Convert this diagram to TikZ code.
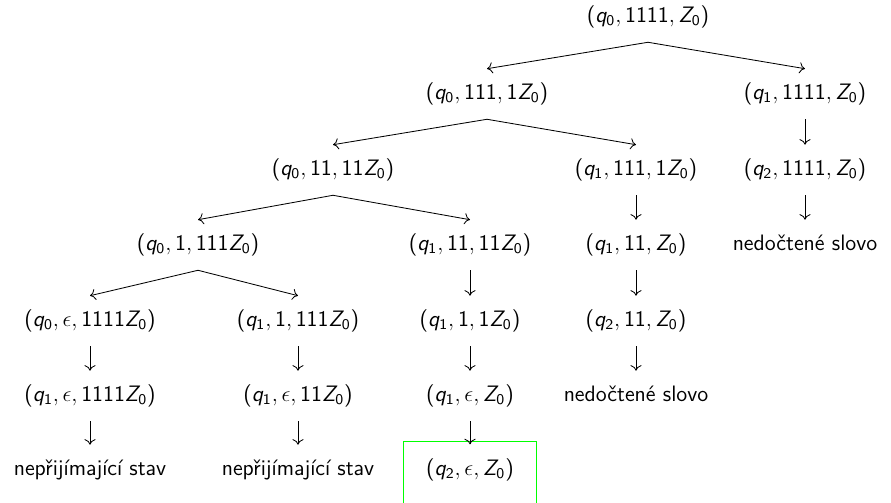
\documentclass[tikz,border=0pt,12pt]{standalone}
\usepackage{xcolor}
\usepackage{tikz}
\usetikzlibrary{arrows.meta}
\renewcommand{\familydefault}{\sfdefault}
\SetSymbolFont{operators}{normal}{OT1}{cmss}{m}{n}
\DeclareSymbolFont{sfletters}{OT1}{cmss}{m}{it}
\DeclareMathSymbol{q}{\mathalpha}{sfletters}{`q}
\DeclareMathSymbol{Z}{\mathalpha}{sfletters}{`Z}
\tikzset{
  konf/.style={text height=9pt, text depth=3pt, inner xsep=2pt, inner ysep=7.4pt},
  prijem/.style={konf, draw=green, anchor=base, minimum width=71.5pt, inner ysep=9.6pt, text depth=30pt},
  prechod/.style={line width=0.45pt, -{To[length=3pt, width=6pt]}}
}

\begin{document}
\begin{tikzpicture}[x=0.0189cm, y=-0.0189cm]
\useasboundingbox (0,0) rectangle (891,503);
%koren
\node[konf] (c11) at (648,17) {$(q_0, 1111, Z_0)$};
%druha uroven
\node[konf] (c21) at (487,94) {$(q_0, 111, 1Z_0)$};
\node[konf] (c22) at (805,94) {$(q_1, 1111, Z_0)$};
%treti uroven
\node[konf] (c31) at (333,170) {$(q_0, 11, 11Z_0)$};
\node[konf] (c32) at (636,170) {$(q_1, 111, 1Z_0)$};
\node[konf] (c33) at (805,170) {$(q_2, 1111, Z_0)$};
%ctvrta uroven
\node[konf] (c41) at (198,245) {$(q_0, 1, 111Z_0)$};
\node[konf] (c42) at (470,245) {$(q_1, 11, 11Z_0)$};
\node[konf] (c43) at (636,245) {$(q_1, 11, Z_0)$};
\node[konf] (c44) at (805,245) {nedočtené slovo};
%pata uroven
\node[konf] (c51) at (90,321) {$(q_0, \epsilon, 1111Z_0)$};
\node[konf] (c52) at (298,321) {$(q_1, 1, 111Z_0)$};
\node[konf] (c53) at (470,321) {$(q_1, 1, 1Z_0)$};
\node[konf] (c54) at (636,321) {$(q_2, 11, Z_0)$};
%sesta uroven
\node[konf] (c61) at (90,396) {$(q_1, \epsilon, 1111Z_0)$};
\node[konf] (c62) at (298,396) {$(q_1, \epsilon, 11Z_0)$};
\node[konf] (c63) at (470,396) {$(q_1, \epsilon, Z_0)$};
\node[konf] (c64) at (636,396) {nedočtené slovo};
%listy
\node[konf] (c71) at (90,470) {nepřijímající stav};
\node[konf] (c72) at (298,470) {nepřijímající stav};
\node[prijem] (c73) at (470,475.6) {$(q_2, \epsilon, Z_0)$};

%vetveni
\draw[prechod] (c11.south)--(c21.north);
\draw[prechod] (c11.south)--(c22.north);
\draw[prechod] (c21.south)--(c31.north);
\draw[prechod] (c21.south)--(c32.north);
\draw[prechod] (c31.south)--(c41.north);
\draw[prechod] (c31.south)--(c42.north);
\draw[prechod] (c41.south)--(c51.north);
\draw[prechod] (c41.south)--(c52.north);

%jednoduche prechody
\draw[prechod] (c22.south)--(c33.north);
\draw[prechod] (c32.south)--(c43.north);
\draw[prechod] (c33.south)--(c44.north);
\draw[prechod] (c42.south)--(c53.north);
\draw[prechod] (c43.south)--(c54.north);
\draw[prechod] (c51.south)--(c61.north);
\draw[prechod] (c52.south)--(c62.north);
\draw[prechod] (c53.south)--(c63.north);
\draw[prechod] (c54.south)--(c64.north);
\draw[prechod] (c61.south)--(c71.north);
\draw[prechod] (c62.south)--(c72.north);
\draw[prechod, shorten >=-2pt] (c63.south)--(c73.north);
\end{tikzpicture}
\end{document}
